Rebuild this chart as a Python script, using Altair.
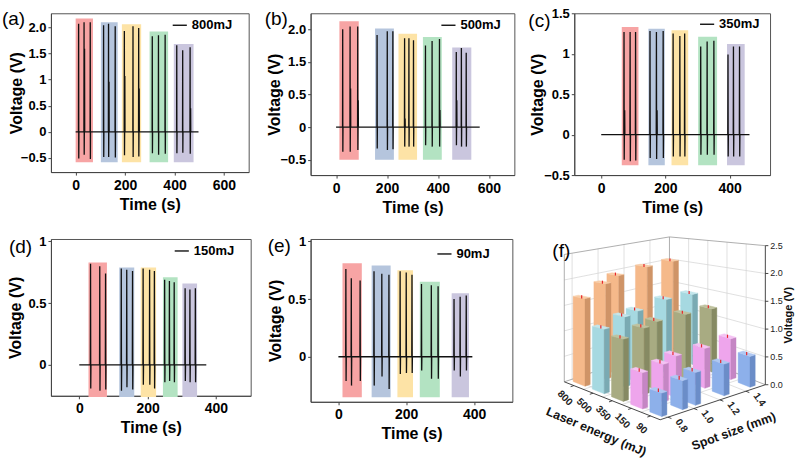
import json
import altair as alt
import pandas as pd

FONT = "Liberation Sans"
BOX_COLORS = ["#f7a4a4", "#b5c5dd", "#fde3a6", "#b3e3c2", "#cac6de"]

# ---------------- (a) 800 mJ ----------------
a_t = [12, 34, 59, 113, 133, 160, 197, 232, 255, 310, 335, 362, 409, 433, 463]
a_peak = [2.07, 2.10, 2.10, 2.04, 2.07, 2.02, 1.93, 2.02, 1.99, 1.83, 1.85, 1.86, 1.66, 1.56, 1.62]
a_trough = [-0.51, -0.44, -0.52, -0.48, -0.48, -0.49, -0.45, -0.48, -0.47, -0.41, -0.44, -0.42, -0.41, -0.40, -0.42]
a_sub_t = [34, 133, 197, 255, 463]
a_sub_v = [1.59, 0.96, 1.07, 0.83, 0.45]
a_box_start = [0, 102, 187, 299, 397]
a_box_end = [70, 170, 265, 374, 477]
a_box_top = [2.17, 2.10, 2.06, 1.92, 1.68]
a_box_bottom = -0.58
a_trace = [0, 497]

# ---------------- (b) 500 mJ (values on the plotted scale) ----------------
b_t = [26, 55, 85, 161, 201, 223, 269, 286, 304, 351, 377, 406, 472, 492, 511]
b_peak = [1.50, 1.54, 1.54, 1.41, 1.47, 1.47, 1.36, 1.36, 1.33, 1.25, 1.32, 1.35, 1.15, 1.21, 1.14]
b_trough = [-0.38, -0.38, -0.35, -0.33, -0.35, -0.34, -0.30, -0.30, -0.30, -0.28, -0.30, -0.30, -0.28, -0.30, -0.30]
b_sub_t = [55, 85, 269, 406, 472]
b_sub_v = [0.59, 0.41, 0.13, 0.26, 0.41]
b_box_start = [13, 153, 245, 341, 456]
b_box_end = [89, 227, 318, 415, 531]
b_box_top = [1.62, 1.51, 1.43, 1.38, 1.22]
b_box_bottom = -0.50
b_trace = [0, 564]

# ---------------- (c) 350 mJ ----------------
c_t = [71, 90, 107, 152, 172, 193, 224, 245, 260, 310, 330, 351, 395, 412, 431]
c_peak = [1.27, 1.27, 1.27, 1.28, 1.27, 1.28, 1.25, 1.22, 1.25, 1.09, 1.15, 1.16, 0.99, 1.09, 1.09]
c_trough = [-0.31, -0.33, -0.32, -0.29, -0.30, -0.29, -0.27, -0.27, -0.27, -0.25, -0.25, -0.25, -0.27, -0.27, -0.27]
c_sub_t = [71, 172]
c_sub_v = [0.30, 0.30]
c_box_start = [64, 147, 219, 302, 392]
c_box_end = [116, 198, 271, 361, 447]
c_box_top = [1.33, 1.31, 1.29, 1.21, 1.12]
c_box_bottom = -0.38
c_trace = [0, 462]

# ---------------- (d) 150 mJ ----------------
d_t = [33, 60, 77, 123, 139, 156, 187, 206, 220, 250, 264, 278, 310, 324, 340]
d_peak = [0.82, 0.80, 0.74, 0.78, 0.77, 0.76, 0.78, 0.77, 0.76, 0.69, 0.68, 0.67, 0.62, 0.61, 0.62]
d_trough = [-0.19, -0.21, -0.20, -0.21, -0.18, -0.20, -0.16, -0.16, -0.19, -0.14, -0.13, -0.14, -0.13, -0.14, -0.14]
d_sub_t = []
d_sub_v = []
d_box_start = [27, 117, 180, 245, 302]
d_box_end = [81, 161, 225, 288, 345]
d_box_top = [0.83, 0.79, 0.79, 0.71, 0.66]
d_box_bottom = -0.26
d_trace = [0, 372]

# ---------------- (e) 90 mJ ----------------
e_t = [22, 38, 64, 105, 128, 149, 182, 200, 217, 245, 274, 294, 341, 359, 377]
e_peak = [0.76, 0.68, 0.66, 0.74, 0.72, 0.71, 0.74, 0.73, 0.71, 0.63, 0.62, 0.61, 0.50, 0.52, 0.53]
e_trough = [-0.21, -0.25, -0.21, -0.25, -0.17, -0.28, -0.15, -0.14, -0.14, -0.12, -0.19, -0.19, -0.12, -0.17, -0.12]
e_sub_t = []
e_sub_v = []
e_box_start = [12, 98, 174, 240, 334]
e_box_end = [69, 154, 220, 299, 385]
e_box_top = [0.81, 0.79, 0.75, 0.65, 0.55]
e_box_bottom = -0.35
e_trace = [0, 395]

# ---------------- (f) 3D bars ----------------
f_energy = ["800", "500", "350", "150", "90"]  # back -> front
f_spot = [0.80, 0.96, 1.06, 1.28, 1.48]
f_v_800 = [1.67, 1.87, 1.98, 2.04, 2.05]
f_v_500 = [1.18, 1.31, 1.36, 1.45, 1.43]
f_v_350 = [1.09, 1.19, 1.25, 1.25, 1.23]
f_v_150 = [0.61, 0.65, 0.73, 0.72, 0.76]
f_v_90 = [0.38, 0.48, 0.55, 0.55, 0.55]
f_err = 0.03
f_spot_ticks = [0.8, 1.0, 1.2, 1.4]
f_volt_ticks = [0.0, 0.5, 1.0, 1.5, 2.0, 2.5]
F_LIGHT = ["#f5b98a", "#a6d9e1", "#a8ab82", "#eea5ec", "#8db0ea"]
F_DARK = ["#cf9467", "#7aaab3", "#868a63", "#c586c4", "#6b8dc8"]
F_TOP = ["#f8cda7", "#c3e6ec", "#bfc29f", "#f4c3f3", "#afc8f2"]

MINUS = "\u2212"


def line_table(t, peak, trough, sub_t, sub_v, trace, name):
    sub = dict(zip(sub_t, sub_v))
    rows = [(trace[0], 0.0)]
    for ti, p, tr in sorted(zip(t, peak, trough)):
        rows += [(ti - 0.6, 0.0), (ti, p), (ti + 0.6, tr), (ti + 1.2, 0.0)]
        if ti in sub:
            rows += [(ti + 2.0, sub[ti]), (ti + 2.6, 0.0)]
    rows.append((trace[1], 0.0))
    df = pd.DataFrame(rows, columns=["time", "voltage"])
    df["order"] = range(len(df))
    df["series"] = name
    return df


def box_table(start, end, top, bottom):
    return pd.DataFrame({"start": start, "end": end, "top": top,
                         "bottom": [bottom] * len(start), "color": BOX_COLORS})


def label_expr(vals, labs):
    return "%s[indexof(%s, datum.value)]" % (json.dumps(labs, ensure_ascii=False), json.dumps(vals))


def trace_panel(tag, name, lines, boxes, xdom, xticks, ydom, yticks, ylabels, w, h, tag_pos, leg_pos, title_x):
    xs = alt.Scale(domain=xdom, nice=False, zero=False)
    ys = alt.Scale(domain=ydom, nice=False, zero=False)
    xa = alt.Axis(values=xticks, title="Time (s)", format="d", labelFontSize=14, labelPadding=3,
                  titlePadding=4, labelFlush=False, labelOverlap=False)
    ya = alt.Axis(values=yticks, title="Voltage (V)", labelExpr=label_expr(yticks, ylabels),
                  labelPadding=2, titleX=title_x, titleY=h / 2, titleAngle=270, titleAlign="center",
                  titleBaseline="bottom", labelOverlap=False, labelFlush=False)
    rects = alt.Chart(boxes).mark_rect().encode(
        x=alt.X("start:Q", scale=xs, axis=xa), x2="end:Q",
        y=alt.Y("bottom:Q", scale=ys, axis=ya), y2="top:Q",
        fill=alt.Fill("color:N", scale=None))
    trace = alt.Chart(lines).mark_line(strokeWidth=1.3).encode(
        x=alt.X("time:Q", scale=xs, axis=xa),
        y=alt.Y("voltage:Q", scale=ys, axis=ya),
        order="order:Q",
        stroke=alt.Stroke("series:N", scale=alt.Scale(range=["#111111"]),
                          legend=alt.Legend(title=None, orient="none", legendX=leg_pos[0], legendY=leg_pos[1],
                                            symbolType="stroke", symbolSize=200, symbolStrokeWidth=1.4,
                                            labelFont=FONT, labelFontSize=13, labelFontWeight="bold",
                                            labelColor="black", padding=0, labelOffset=4)))
    tagc = alt.Chart(pd.DataFrame({"tag": [tag]})).mark_text(
        font=FONT, fontSize=19, align="left", baseline="middle", color="black").encode(
        x=alt.value(tag_pos[0]), y=alt.value(tag_pos[1]), text="tag:N")
    return alt.layer(rects, trace, tagc).properties(width=w, height=h)


pa = trace_panel("(a)", "800mJ", line_table(a_t, a_peak, a_trough, a_sub_t, a_sub_v, a_trace, "800mJ"),
                 box_table(a_box_start, a_box_end, a_box_top, a_box_bottom),
                 [-100, 700], [0, 200, 400, 600], [-0.77, 2.27],
                 [-0.5, 0, 0.5, 1, 1.5, 2], [MINUS + "0.5", "0", "0.5", "1", "1.5", "2.0"],
                 198, 159, (-49, 6), (121, 4), -26)
pb = trace_panel("(b)", "500mJ", line_table(b_t, b_peak, b_trough, b_sub_t, b_sub_v, b_trace, "500mJ"),
                 box_table(b_box_start, b_box_end, b_box_top, b_box_bottom),
                 [-100, 700], [0, 200, 400, 600], [-0.736, 1.744],
                 [-0.5, 0, 0.5, 1, 1.5], [MINUS + "0.5", "0", "0.5", "1.5", "2.0"],
                 204, 162, (-46, 6), (130, 4), -28)
pc = trace_panel("(c)", "350mJ", line_table(c_t, c_peak, c_trough, c_sub_t, c_sub_v, c_trace, "350mJ"),
                 box_table(c_box_start, c_box_end, c_box_top, c_box_bottom),
                 [-84, 526], [0, 200, 400], [-0.5, 1.5],
                 [-0.5, 0, 0.5, 1, 1.5], [MINUS + "0.5", "0", "0.5", "1", "1.5"],
                 196, 162, (-46, 8), (125, 3), -29)
pd_ = trace_panel("(d)", "150mJ", line_table(d_t, d_peak, d_trough, d_sub_t, d_sub_v, d_trace, "150mJ"),
                  box_table(d_box_start, d_box_end, d_box_top, d_box_bottom),
                  [-83, 502], [0, 200, 400], [-0.25, 1.02],
                  [0, 0.5, 1], ["0", "0.5", "1"],
                  200, 157, (-42, 8.5), (123, 4), -27)
pe = trace_panel("(e)", "90mJ", line_table(e_t, e_peak, e_trough, e_sub_t, e_sub_v, e_trace, "90mJ"),
                 box_table(e_box_start, e_box_end, e_box_top, e_box_bottom),
                 [-82, 513], [0, 200, 400], [-0.39, 1.02],
                 [0, 0.5, 1], ["0", "0.5", "1"],
                 202, 163, (-43, 7.5), (126, 7), -27)


def bar3d_panel():
    X0, X1, Y0, Y1 = 572.0, 794.0, 239.0, 461.0
    O = (658.0, 420.0)
    E = (-19.2, -7.6)
    P = (130.0, -43.3)
    S0, S1, NE, VMAX = 0.74, 1.55, 5, 2.5

    def vs(s, e):
        return 62.7 - 7.0 * (s - S0) / (S1 - S0) - 11.7 * e / NE

    def proj(s, e, v):
        return (O[0] + E[0] * e + P[0] * (s - S0),
                O[1] + E[1] * e + P[1] * (s - S0) - v * vs(s, e))

    xs = alt.Scale(domain=[X0, X1], nice=False, zero=False)
    ys = alt.Scale(domain=[Y0, Y1], nice=False, zero=False, reverse=True)

    def seg_rows(pairs):
        return pd.DataFrame([{"x": p[0], "y": p[1], "x2": q[0], "y2": q[1]} for p, q in pairs])

    def rules(df, color, width):
        return alt.Chart(df).mark_rule(color=color, strokeWidth=width).encode(
            x=alt.X("x:Q", scale=xs, axis=None), y=alt.Y("y:Q", scale=ys, axis=None),
            x2="x2:Q", y2="y2:Q")

    grid = []
    for s in f_spot_ticks:
        grid.append((proj(s, NE, 0), proj(s, NE, VMAX)))
        grid.append((proj(s, 0, 0), proj(s, NE, 0)))
    for e in range(1, NE):
        grid.append((proj(S1, e, 0), proj(S1, e, VMAX)))
        grid.append((proj(S0, e, 0), proj(S1, e, 0)))
    for v in f_volt_ticks[1:-1]:
        grid.append((proj(S0, NE, v), proj(S1, NE, v)))
        grid.append((proj(S1, 0, v), proj(S1, NE, v)))
    frame = [(proj(S0, NE, 0), proj(S0, NE, VMAX)), (proj(S1, NE, 0), proj(S1, NE, VMAX)),
             (proj(S0, NE, VMAX), proj(S1, NE, VMAX)), (proj(S1, NE, VMAX), proj(S1, 0, VMAX)),
             (proj(S0, NE, 0), proj(S1, NE, 0)), (proj(S1, NE, 0), proj(S1, 0, 0))]
    axes = [(proj(S0, 0, 0), proj(S0, NE, 0)), (proj(S0, 0, 0), proj(S1, 0, 0)),
            (proj(S1, 0, 0), proj(S1, 0, VMAX))]
    for v in f_volt_ticks:
        p = proj(S1, 0, v)
        axes.append((p, (p[0] + 3, p[1])))
    for k in range(NE):
        axes.append((proj(S0, k + 0.5, 0), proj(S0 - 0.025, k + 0.5, 0)))
    for s in f_spot_ticks:
        axes.append((proj(s, 0, 0), proj(s, -0.18, 0)))

    rows_v = [f_v_800, f_v_500, f_v_350, f_v_150, f_v_90]
    bars = []
    for i, row in enumerate(rows_v):
        e = (NE - 1 - i) + 0.5
        for s, v in zip(f_spot, row):
            bars.append((proj(s, e, 0)[1], s, e, v, F_LIGHT[i], F_DARK[i], F_TOP[i]))
    bars.sort(key=lambda b: b[0])
    de, ds = 0.31, 0.02

    def at(p, q, x):
        return p[1] + (q[1] - p[1]) * (x - p[0]) / (q[0] - p[0])

    faces = []
    errs = []
    for n, (_, s, e, v, light, dark, topc) in enumerate(bars):
        A0, B0, C0 = proj(s - ds, e - de, 0), proj(s - ds, e + de, 0), proj(s + ds, e - de, 0)
        A1, B1, C1, D1 = (proj(s - ds, e - de, v), proj(s - ds, e + de, v),
                          proj(s + ds, e - de, v), proj(s + ds, e + de, v))
        f = "%03d" % n
        faces += [dict(fid=f + "a", x=B0[0], y=B0[1], y2=B1[1], c=light),
                  dict(fid=f + "a", x=A0[0], y=A0[1], y2=A1[1], c=light),
                  dict(fid=f + "b", x=A0[0], y=A0[1], y2=A1[1], c=dark),
                  dict(fid=f + "b", x=C0[0], y=C0[1], y2=C1[1], c=dark),
                  dict(fid=f + "c", x=B1[0], y=B1[1], y2=B1[1], c=topc),
                  dict(fid=f + "c", x=D1[0], y=at(B1, A1, D1[0]), y2=D1[1], c=topc),
                  dict(fid=f + "c", x=A1[0], y=A1[1], y2=at(D1, C1, A1[0]), c=topc),
                  dict(fid=f + "c", x=C1[0], y=C1[1], y2=C1[1], c=topc)]
        errs.append((proj(s, e, v - f_err), proj(s, e, v + f_err)))
    faces = pd.DataFrame(faces)
    face_layer = alt.Chart(faces).mark_area(strokeWidth=0.4, interpolate="linear").encode(
        x=alt.X("x:Q", scale=xs, axis=None),
        y=alt.Y("y:Q", scale=ys, axis=None, stack=None), y2="y2:Q",
        detail="fid:N",
        fill=alt.Fill("c:N", scale=None), stroke=alt.Stroke("c:N", scale=None))

    vt = pd.DataFrame([{"x": proj(S1, 0, v)[0] + 5, "y": proj(S1, 0, v)[1], "t": "%.1f" % v}
                       for v in f_volt_ticks])
    et = pd.DataFrame([{"x": proj(S0, (NE - 1 - i) + 0.5, 0)[0] - 9,
                        "y": proj(S0, (NE - 1 - i) + 0.5, 0)[1] + 12.5, "t": lab}
                       for i, lab in enumerate(f_energy)])
    st = pd.DataFrame([{"x": proj(s, 0, 0)[0] + 13.5, "y": proj(s, 0, 0)[1] + 8.5, "t": "%.1f" % s}
                       for s in f_spot_ticks])
    pv = proj(S1, 0, 1.25)
    pe_ = proj(S0, NE / 2, 0)
    ps = proj((S0 + S1) / 2, 0, 0)
    titles = pd.DataFrame([
        {"x": pv[0] + 24, "y": pv[1], "t": "Voltage (V)", "a": 270, "fs": 11},
        {"x": pe_[0] - 16, "y": pe_[1] + 31, "t": "Laser energy (mJ)", "a": 23, "fs": 12.5},
        {"x": ps[0] + 21, "y": ps[1] + 29, "t": "Spot size (mm)", "a": 340, "fs": 12.5},
    ])

    def txt(df, **kw):
        return alt.Chart(df).mark_text(font=FONT, color="#222222", **kw).encode(
            x=alt.X("x:Q", scale=xs, axis=None), y=alt.Y("y:Q", scale=ys, axis=None), text="t:N")

    title_layer = alt.Chart(titles).mark_text(font=FONT, fontWeight="bold", color="#111111",
                                              align="center", baseline="middle").encode(
        x=alt.X("x:Q", scale=xs, axis=None), y=alt.Y("y:Q", scale=ys, axis=None), text="t:N",
        angle=alt.Angle("a:Q", scale=None), size=alt.Size("fs:Q", scale=None))
    tag = alt.Chart(pd.DataFrame({"tag": ["(f)"]})).mark_text(
        font=FONT, fontSize=19, align="center", baseline="middle", color="black").encode(
        x=alt.value(-13), y=alt.value(12), text="tag:N")

    layers = [
        rules(seg_rows(grid), "#d2d2d2", 0.7),
        rules(seg_rows(frame), "#9a9a9a", 0.8),
        face_layer,
        rules(seg_rows(errs), "#e8262b", 1.2),
        rules(seg_rows(axes), "#333333", 0.9),
        txt(vt, fontSize=9, align="left", baseline="middle"),
        txt(et, fontSize=10, fontWeight="bold", align="center", baseline="middle", angle=45),
        txt(st, fontSize=10, fontWeight="bold", align="center", baseline="middle", angle=55),
        title_layer,
        tag,
    ]
    return alt.layer(*layers).properties(width=X1 - X0, height=Y1 - Y0,
                                         view=alt.ViewBackground(stroke=None))


pf = bar3d_panel()

chart = alt.concat(pa, pb, pc, pd_, pe, pf, columns=3, spacing={"row": 64, "column": 60},
                   bounds="flush", align="each").resolve_scale(stroke="independent").properties(
    padding={"left": 1, "top": 6, "right": 0, "bottom": 0}
).configure_axis(
    labelFont=FONT, titleFont=FONT, labelFontWeight="bold", titleFontWeight="bold",
    labelColor="black", titleColor="black", labelFontSize=13, titleFontSize=16,
    domainColor="#444444", tickColor="#444444", tickSize=3, grid=False
).configure_view(stroke="#555555", strokeWidth=1)

chart.save("out.html", embed_options={"renderer": "svg", "actions": False})
